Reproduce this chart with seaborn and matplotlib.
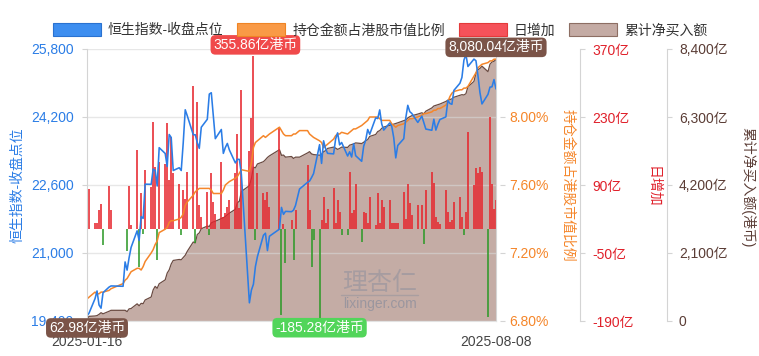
import matplotlib
matplotlib.use("Agg")
import matplotlib.pyplot as plt
import matplotlib.patches as mpatches
import matplotlib.ticker as mticker
import matplotlib.dates as mdates
import numpy as np
import pandas as pd
import seaborn as sns

sns.set_style("white")
plt.rcParams["font.family"] = ["Liberation Sans", "Noto Sans CJK SC", "DejaVu Sans"]
plt.rcParams["font.size"] = 10
plt.rcParams["axes.unicode_minus"] = False

# # Southbound flows vs Hang Seng index, 2025-01-16 .. 2025-08-08

start_date = "2025-01-16"
end_date = "2025-08-08"
hk_holidays = [
    "2025-01-29", "2025-01-30", "2025-01-31", "2025-04-04", "2025-04-18",
    "2025-04-21", "2025-05-01", "2025-05-05", "2025-07-01",
]

# one row per week
hsi_close = [
    19522, 19584,
    19925, 20107, 19778, 19701, 20066,
    20198, 20225,
    20217, 20790, 20597, 20891, 21133,
    21522, 21295, 21857, 21814, 22620,
    22616, 22976, 22944, 22576, 23478,
    23342, 23035, 23788, 23718, 22941,
    23006, 22941, 23595, 24370, 24231,
    23783, 23782, 23600, 23462, 23959,
    24146, 24740, 24771, 24219, 23690,
    23906, 23344, 23483, 23578, 23426,
    23120, 23206, 23202, 22849,
    19828, 20127, 20264, 20681, 20915,
    21417, 21466, 21057, 21395,
    21562, 22073, 21909, 21980,
    21972, 22008, 22119, 22505,
    22663, 22692, 22775, 22868,
    23549, 23108, 23640, 23453, 23345,
    23332, 23681, 23827, 23544, 23601,
    23282, 23382, 23258, 23573, 23290,
    23158, 23512, 23655, 23907, 23792,
    24181, 24163, 24367, 24036, 23892,
    24060, 23980, 23711, 23238, 23530,
    23690, 24178, 24475, 24325, 24284,
    24072, 24221, 24070, 23916,
    23888, 24148, 23892, 24029, 24140,
    24203, 24590, 24518, 24499, 24826,
    24994, 25130, 25538, 25667, 25388,
    25562, 25524, 25176, 24773, 24507,
    24733, 24903, 24910, 25081, 24859,
]

holding_pct = [
    6.93, 6.94,
    6.97, 6.96, 6.96, 6.97, 6.97,
    6.98, 6.99,
    7.02, 7.04, 7.05, 7.07, 7.09,
    7.11, 7.11, 7.10, 7.12, 7.15,
    7.20, 7.22, 7.25, 7.27, 7.32,
    7.34, 7.35, 7.38, 7.39, 7.39,
    7.40, 7.41, 7.43, 7.48, 7.50,
    7.54, 7.56, 7.57, 7.58, 7.58,
    7.58, 7.58, 7.57, 7.55, 7.55,
    7.55, 7.57, 7.60, 7.61, 7.62,
    7.64, 7.65, 7.67, 7.69,
    7.68, 7.73, 7.82, 7.85, 7.86,
    7.89, 7.88, 7.89, 7.90,
    7.94, 7.92, 7.90, 7.89,
    7.89, 7.90, 7.90, 7.92,
    7.92, 7.90, 7.89, 7.88,
    7.86, 7.85, 7.82, 7.83, 7.84,
    7.87, 7.89, 7.90, 7.90, 7.91,
    7.90, 7.91, 7.92, 7.93, 7.93,
    7.95, 7.96, 7.97, 7.98, 8.00,
    8.00, 8.00, 7.99, 7.98, 7.98,
    7.98, 7.96, 7.95, 7.94, 7.95,
    7.96, 7.97, 7.98, 7.99, 7.99,
    8.00, 8.01, 8.02, 8.02,
    8.03, 8.04, 8.04, 8.05, 8.05,
    8.07, 8.09, 8.12, 8.14, 8.15,
    8.16, 8.16, 8.17, 8.17, 8.18,
    8.24, 8.26, 8.29, 8.30, 8.31,
    8.32, 8.33, 8.33, 8.34, 8.34,
]

# 亿港币, None = southbound closed
daily_net = [
    62.98, 81,
    11, 12, 38, 51, -34,
    88, 38,
    None, None, -45, 88, 8,
    162, -78, 73, -10, 121,
    86, 220, 128, -64, 138,
    134, 217, 100, 189, 114,
    93, -13, 80, 62, 117,
    294, -30, 261, 48, 25,
    75, -12, 114, 55, 30,
    138, 25, 32, 45, 60,
    114, 196, 42, 285,
    160, 227, 355.86, -23, 114,
    73, 59, 76, 45,
    210, -178, 10, -71,
    18, -64, 38, None,
    131, 38, -78, -23,
    -185.28, 18, 66, 11, 40,
    83, 11, 59, 35, -13,
    -13, 117, 32, 38, 93,
    -27, 35, 32, 11, 66,
    8, 73, 11, 59, 45,
    59, 11, 11, 11, 11,
    76, 21, 93, 52, 28,
    49, 49, -32, 80,
    117, 95, 25, 14, 10,
    80, 35, 14, 18, 56,
    66, 25, -13, 35, 200,
    90, 124, 114, 128, 117,
    -181, 231, 93, 40, 59,
]

cum_net = [
    62.98, 144,
    155, 167, 205, 256, 222,
    300, 330,
    330, 330, 290, 375, 385,
    530, 470, 545, 535, 650,
    740, 960, 1070, 1010, 1150,
    1270, 1480, 1580, 1760, 1870,
    1900, 1890, 1960, 2030, 2150,
    2440, 2410, 2670, 2720, 2850,
    2930, 2920, 3030, 3060, 3080,
    3160, 3190, 3230, 3280, 3330,
    3450, 3650, 3700, 4000,
    4180, 4400, 4750, 4730, 4850,
    4920, 4980, 5050, 5100,
    5290, 5115, 5125, 5060,
    5080, 5020, 5060, 5060,
    5190, 5230, 5160, 5140,
    5120, 5150, 5230, 5260, 5330,
    5370, 5340, 5300, 5330, 5370,
    5360, 5430, 5450, 5470, 5500,
    5480, 5520, 5570, 5600, 5700,
    5760, 5850, 5880, 5950, 5990,
    6040, 6060, 6080, 6100, 6120,
    6190, 6210, 6270, 6310, 6340,
    6390, 6430, 6400, 6480,
    6580, 6640, 6660, 6680, 6700,
    6780, 6820, 6840, 6860, 6910,
    6970, 6990, 6980, 7020, 7230,
    7400, 7650, 7760, 7800, 7870,
    7700, 7930, 8000, 8020, 8080.04,
]

dates = pd.bdate_range(start_date, end_date)
dates = dates[~dates.isin(pd.to_datetime(hk_holidays))]
daily = np.array([np.nan if v is None else v for v in daily_net], dtype=float)

c_blue = "#2b7de6"
c_orange = "#f5862a"
c_red = "#e6262d"
c_green = "#2f9a2a"
c_brown = "#c4aca5"
c_brown_dk = "#6b4b42"
c_grey = "#d4d4d4"

fig = plt.figure(figsize=(7.59, 3.56), dpi=100)
fig.patch.set_facecolor("white")
ax_hsi = fig.add_axes([87 / 759, 1 - 321 / 356, 409 / 759, 272 / 356])
ax_cum = ax_hsi.twinx()
ax_bar = ax_hsi.twinx()
ax_pct = ax_hsi.twinx()
for z, a in enumerate([ax_cum, ax_bar, ax_pct, ax_hsi]):
    a.set_zorder(z + 1)
    a.patch.set_visible(False)

# cumulative area + grid
ax_cum.fill_between(dates, cum_net, 0, color=c_brown, linewidth=0, zorder=1)
sns.lineplot(x=dates, y=cum_net, ax=ax_cum, color=c_brown_dk, linewidth=0.9, zorder=3)
ax_cum.set_axisbelow(False)
ax_cum.yaxis.grid(True, color="#d8d8d8", alpha=0.6, linewidth=1)

# daily bars (thin, one per trading day)
ok = ~np.isnan(daily)
bar_colors = np.where(daily[ok] >= 0, c_red, c_green)
ax_bar.vlines(dates[ok], 0, daily[ok], colors=bar_colors, linewidth=1.15)

# lines
sns.lineplot(x=dates, y=holding_pct, ax=ax_pct, color=c_orange, linewidth=1.1)
sns.lineplot(x=dates, y=hsi_close, ax=ax_hsi, color=c_blue, linewidth=1.15)

# axes
ax_hsi.set_xlim(dates[0], dates[-1])
ax_hsi.set_xticks([dates[0], dates[-1]])
ax_hsi.set_xticklabels(["2025-01-16", "2025-08-08"])
ax_hsi.tick_params(axis="x", length=6.5, width=0.8, color=c_grey,
                   labelcolor="#444444", pad=3.5, labelsize=10)

ax_hsi.set_ylim(19400, 25800)
ax_hsi.set_yticks(np.arange(19400, 25801, 1600))
ax_hsi.yaxis.set_major_formatter(mticker.StrMethodFormatter("{x:,.0f}"))
ax_hsi.tick_params(axis="y", length=3.6, width=0.8, color=c_grey,
                   labelcolor=c_blue, pad=6, labelsize=10)

ax_pct.set_ylim(6.8, 8.4)
ax_pct.set_yticks([6.8, 7.2, 7.6, 8.0])
ax_pct.yaxis.set_major_formatter(mticker.StrMethodFormatter("{x:.2f}%"))
ax_pct.spines["right"].set_position(("axes", 413 / 409))
ax_pct.tick_params(axis="y", length=3.6, width=0.8, color=c_grey,
                   labelcolor=c_orange, pad=3, labelsize=10)

ax_bar.set_ylim(-190, 370)
ax_bar.set_yticks(np.arange(-190, 371, 140))
ax_bar.yaxis.set_major_formatter(mticker.FuncFormatter(lambda v, p: f"{v:.0f}亿"))
ax_bar.spines["right"].set_position(("axes", 493 / 409))
ax_bar.tick_params(axis="y", length=3.6, width=0.8, color=c_grey,
                   labelcolor="#e0212b", pad=5, labelsize=10)

ax_cum.set_ylim(0, 8400)
ax_cum.set_yticks(np.arange(0, 8401, 2100))
ax_cum.yaxis.set_major_formatter(
    mticker.FuncFormatter(lambda v, p: "0" if v == 0 else f"{v:,.0f}亿")
)
ax_cum.spines["right"].set_position(("axes", 580 / 409))
ax_cum.tick_params(axis="y", length=3.6, width=0.8, color=c_grey,
                   labelcolor="#5b3d36", pad=5, labelsize=10)

for a in [ax_hsi, ax_cum, ax_bar, ax_pct]:
    a.set_xlabel("")
    a.set_ylabel("")
    a.spines["top"].set_visible(False)
for a in [ax_cum, ax_bar, ax_pct]:
    a.spines["left"].set_visible(False)
    a.spines["bottom"].set_visible(False)
ax_pct.spines["right"].set_visible(False)
ax_bar.spines["right"].set_color(c_grey)
ax_cum.spines["right"].set_color(c_grey)
ax_hsi.spines["left"].set_color(c_grey)
ax_hsi.spines["right"].set_color(c_grey)
ax_hsi.spines["bottom"].set_color("#e2e2e2")

# axis titles
fig.text(17 / 759, 1 - 185 / 356, "恒生指数-收盘点位", rotation=90,
         color=c_blue, ha="center", va="center", fontsize=10)
fig.text(568 / 759, 1 - 185 / 356, "持仓金额占港股市值比例", rotation=270,
         color=c_orange, ha="center", va="center", fontsize=10)
fig.text(653 / 759, 1 - 187 / 356, "日增加", rotation=270,
         color="#e0212b", ha="center", va="center", fontsize=10)
fig.text(748 / 759, 1 - 187 / 356, "累计净买入额(港币)", rotation=270,
         color="#5b3d36", ha="center", va="center", fontsize=10)

# watermark
wm = "#8a8d9c"
ax_hsi.text(0.716, 0.14, "理杏仁", transform=ax_hsi.transAxes, ha="center",
            va="center", fontsize=18, color=wm, alpha=0.5)
ax_hsi.plot([0.621, 0.809], [0.097, 0.097], transform=ax_hsi.transAxes,
            color=wm, alpha=0.45, linewidth=1)
ax_hsi.text(0.716, 0.062, "lixinger.com", transform=ax_hsi.transAxes,
            ha="center", va="center", fontsize=10, color=wm, alpha=0.7)

# marker labels
i_max = int(np.nanargmax(daily))
i_min = int(np.nanargmin(daily))
labels = [
    (ax_bar, dates[i_max], daily[i_max], f"{daily[i_max]:,.2f}亿港币", "#f04a4b", (2, 11)),
    (ax_bar, dates[i_min], daily[i_min], f"{daily[i_min]:,.2f}亿港币", "#52d55a", (0, -9)),
    (ax_cum, dates[-1], cum_net[-1], f"{cum_net[-1]:,.2f}亿港币", "#7b5448", (0, 12)),
    (ax_cum, dates[0], cum_net[0], f"{cum_net[0]:,.2f}亿港币", "#7b5448", (0, -9)),
]
for src, x, y, txt, fc, off in labels:
    ax_hsi.annotate(
        txt, xy=(mdates.date2num(x), y), xycoords=src.transData, xytext=off,
        textcoords="offset pixels", ha="center", va="center",
        color="white", fontsize=10, annotation_clip=False,
        bbox=dict(boxstyle="round,pad=0.2,rounding_size=0.35", fc=fc, ec="none"),
    )

# legend
handles = [
    mpatches.Patch(facecolor="#3d8ef0", edgecolor="#2a72d0", linewidth=0.8),
    mpatches.Patch(facecolor="#f99a46", edgecolor="#ef8424", linewidth=0.8),
    mpatches.Patch(facecolor="#f5525a", edgecolor="#e33a3a", linewidth=0.8),
    mpatches.Patch(facecolor="#c4aba4", edgecolor="#8d6e63", linewidth=0.8),
]
leg = fig.legend(
    handles, ["恒生指数-收盘点位", "持仓金额占港股市值比例", "日增加", "累计净买入额"],
    loc="center", bbox_to_anchor=(380 / 759, 1 - 30 / 356), ncol=4,
    frameon=False, fontsize=10, handlelength=3.45, handleheight=1.15,
    handletextpad=0.5, columnspacing=1.0,
)
for t in leg.get_texts():
    t.set_color("#333333")

plt.savefig("out.png", dpi=100)
